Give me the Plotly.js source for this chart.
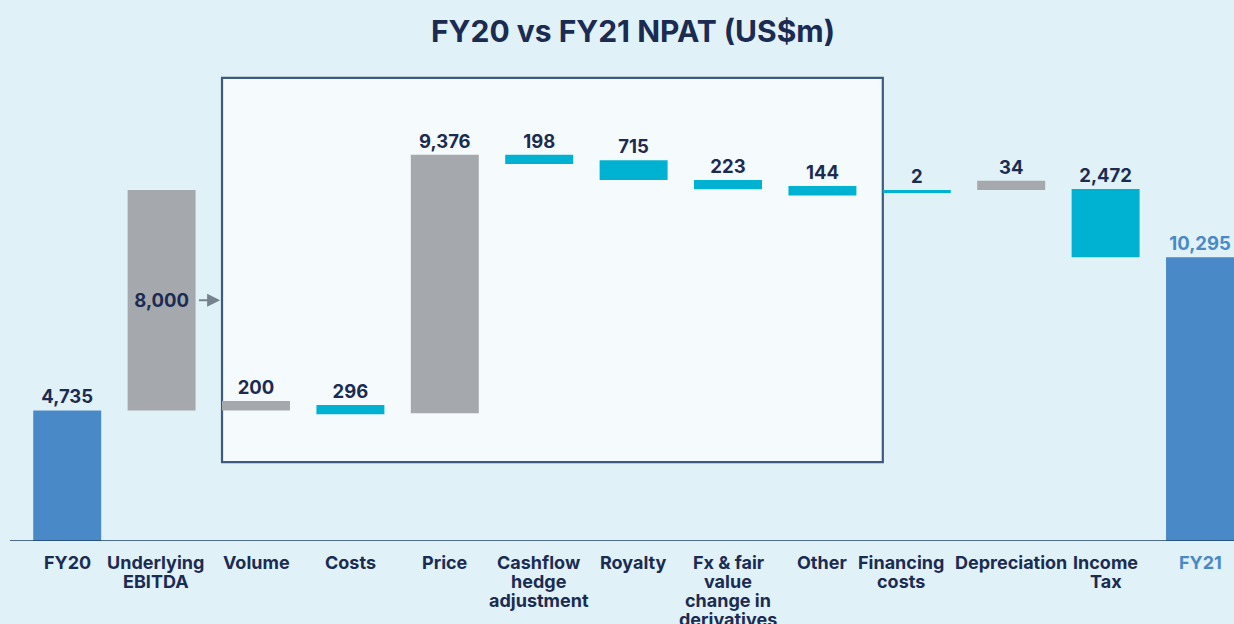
<!DOCTYPE html>
<html>
<head>
<meta charset="utf-8">
<script src="https://cdn.plot.ly/plotly-3.0.1.min.js"></script>
<style>
  html, body { margin: 0; padding: 0; background: #e0f2f7; }
  #chart { width: 1234px; height: 624px; }
</style>
</head>
<body>
<div id="chart"></div>
<script>
// ---- Data ----
const categories = [
  "FY20", "Underlying<br>EBITDA", "Volume", "Costs", "Price",
  "Cashflow<br>hedge<br>adjustment", "Royalty",
  "Fx & fair<br>value<br>change in<br>derivatives", "Other",
  "Financing<br>costs", "Depreciation", "Income<br>Tax", "FY21"
];
// signed change in US$m (totals are absolute levels)
const values = [4735, 8000, 200, -296, 9376, -198, -715, -223, -144, -2, 34, -2472, 10295];
// total = absolute bar, step = main bridge step, detail = breakdown of Underlying EBITDA
const kinds = ["total", "step", "detail", "detail", "detail", "detail", "detail", "detail", "detail",
               "step", "step", "step", "total"];

// ---- Styles ----
const NAVY = "#1b2b52";
const BLUE = "#4a89c7";
const GREY = "#a5a9ad";
const CYAN = "#00b2d1";
const BG = "#e0f2f7";
const FONT = "Inter, 'Noto Sans', sans-serif";
// minimum drawn thickness of a step bar (as in the reference, tiny steps stay visible)
const MIN_BAR = 340, HAIRLINE = 110;
// small horizontal nudges of some category labels (px), as laid out in the reference
const labelNudge = { 1: -6, 9: -16 };

// ---- Waterfall geometry computed from the data ----
const bases = [], heights = [], colors = [], texts = [], textpos = [], textcolors = [];
let level = 0, detailLevel = 0;
values.forEach((v, i) => {
  const k = kinds[i];
  let start, end;
  if (k === "total") { start = 0; end = v; level = v; }
  else if (k === "step") {
    if (i === 1) detailLevel = level;       // breakdown starts where the EBITDA step starts
    start = level; end = level + v; level = end;
  } else {
    start = detailLevel; end = detailLevel + v; detailLevel = end;
  }
  let h = Math.abs(end - start);
  if (k !== "total") h = h < 10 ? HAIRLINE : Math.max(h, MIN_BAR);
  const b = (k === "total" || v >= 0) ? start : start - h;
  bases.push(b);
  heights.push(h);
  colors.push(k === "total" ? BLUE : (v >= 0 ? GREY : CYAN));
  texts.push(Math.abs(v).toLocaleString("en-US"));
  textpos.push(i === 1 ? "inside" : "outside");
  textcolors.push(i === values.length - 1 ? BLUE : NAVY);
});

const x = categories.map((c, i) => i);

const trace = {
  type: "bar",
  x: x,
  y: heights,
  base: bases,
  width: 0.72,
  marker: { color: colors, line: { width: 0 } },
  text: texts,
  textposition: textpos,
  insidetextanchor: "middle",
  textfont: { family: FONT, size: 18.5, color: textcolors, weight: 700 },
  outsidetextfont: { family: FONT, size: 18.5, color: textcolors, weight: 700 },
  insidetextfont: { family: FONT, size: 18.5, color: NAVY, weight: 700 },
  constraintext: "none",
  cliponaxis: false,
  hoverinfo: "skip"
};

const ebitdaMid = values[0] + values[1] / 2;

// category labels, one annotation per text line
const tickAnnotations = [];
categories.forEach((c, i) => {
  c.split("<br>").forEach((line, j) => {
    tickAnnotations.push({
      xref: "x", yref: "paper", x: i, y: 0,
      xanchor: "center", yanchor: "middle",
      xshift: labelNudge[i] || 0,
      yshift: -(21 + 19 * j),
      showarrow: false,
      text: "<b>" + line + "</b>",
      font: { family: FONT, size: 18, color: i === categories.length - 1 ? BLUE : NAVY }
    });
  });
});

const layout = {
  width: 1234,
  height: 624,
  paper_bgcolor: BG,
  plot_bgcolor: BG,
  margin: { l: 20, r: 0, t: 100, b: 83 },
  showlegend: false,
  title: {
    text: "<b>FY20 vs FY21 NPAT (US$m)</b>",
    font: { family: FONT, size: 30, color: NAVY },
    x: 0.513, xref: "container", xanchor: "center",
    y: 0.95, yref: "container", yanchor: "middle"
  },
  xaxis: {
    range: [-0.5, 12.36],
    tickmode: "array",
    tickvals: x,
    showticklabels: false,
    ticks: "",
    showline: false,
    showgrid: false,
    zeroline: false,
    fixedrange: true
  },
  yaxis: {
    range: [0, 16000],
    visible: false,
    showgrid: false,
    zeroline: false,
    fixedrange: true
  },
  shapes: [
    { // breakdown box
      type: "rect", layer: "below",
      xref: "x", x0: 1.64, x1: 8.64,
      yref: "paper", y0: 0.179, y1: 1.05,
      fillcolor: "#f5fbfc",
      line: { color: "#3f5a80", width: 2.2 }
    },
    { // baseline
      type: "line", layer: "above",
      xref: "paper", x0: -0.0083, x1: 1,
      yref: "y", y0: 0, y1: 0,
      line: { color: "#1f3f6e", width: 1.5 }
    }
  ],
  annotations: [
    {
      xref: "x", yref: "y", axref: "x", ayref: "y",
      x: 1.62, y: ebitdaMid, ax: 1.38, ay: ebitdaMid,
      showarrow: true, arrowhead: 2, arrowsize: 1.3, arrowwidth: 2,
      arrowcolor: "#76828d", text: ""
    }
  ].concat(tickAnnotations),
  bargap: 0.28
};

Plotly.newPlot("chart", [trace], layout, { displayModeBar: false, staticPlot: true });
</script>
</body>
</html>
